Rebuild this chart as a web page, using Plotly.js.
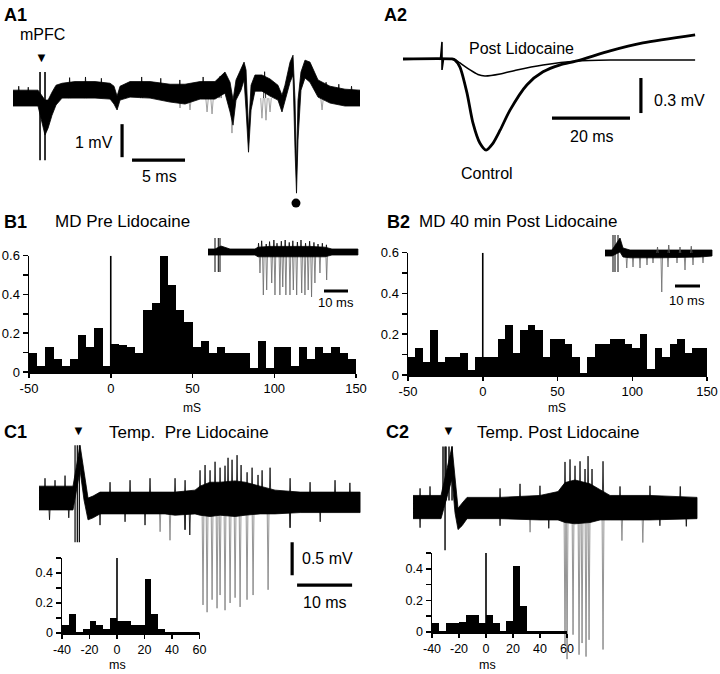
<!DOCTYPE html>
<html><head><meta charset="utf-8">
<script src="https://cdn.plot.ly/plotly-3.0.1.min.js"></script>
<style>html,body{margin:0;padding:0;background:#fff}#chart{width:720px;height:674px}</style>
</head><body><div id="chart"></div>
<script>
// ---------------- DATA ----------------
// A1: averaged field response (ms, mV) - band envelope
const a1T  = [-2.74,-0.38,0.28,0.57,0.94,1.32,1.89,3.11,5.0,6.42,6.79,7.08,7.36,8.3,10.19,12.08,13.49,14.91,16.32,17.26,17.74,18.02,18.3,18.77,19.06,19.25,19.48,19.72,20.09,20.75,21.51,22.26,22.64,22.92,23.4,23.68,23.87,24.01,24.15,24.43,24.81,25.28,26.04,27.17,28.58,30.0];
const a1Hi = [0.24,0.24,-0.06,-0.06,0.18,0.39,0.45,0.5,0.5,0.45,0.36,0.06,0.36,0.5,0.5,0.42,0.42,0.5,0.5,0.79,0.48,-0.06,0.55,0.91,1.09,0.85,-0.97,0.39,0.7,0.7,0.58,0.39,0.09,0.39,1.09,1.3,-0.06,-2.18,-0.06,0.79,1.15,1.09,0.55,0.36,0.27,0.24];
const a1Lo = [-0.24,-0.24,-1.12,-0.91,-0.52,-0.21,0.0,0.0,0.0,-0.03,-0.18,-0.36,-0.06,0.03,0.0,-0.12,-0.18,-0.03,-0.03,0.15,-0.42,-0.82,-0.06,0.24,0.55,-0.36,-1.64,-0.36,0.21,0.21,0.06,-0.06,-0.42,-0.06,0.48,0.7,-1.58,-2.88,-1.27,0.24,0.61,0.48,0.03,-0.15,-0.24,-0.24];
const a1SpikeT = [13.02,13.96,15.57,16.04,17.92,20.75,21.13,21.51,26.42];
const a1SpikeV = [-0.3,-0.36,-0.42,-0.48,-1.06,-0.61,-0.67,-0.42,-0.36];
const a1HairT = [-2.2,-1.3,2.6,4.1,5.6,9.4,11.2,13.0,15.2,16.8,21.0,26.8,28.0,29.2];
const a1HairV = [0.36,0.33,0.62,0.64,0.6,0.64,0.6,0.55,0.64,0.66,0.8,0.48,0.42,0.36];
const a1ArtT = [-0.19,0.28];
const a1ArtTop = 0.79, a1ArtBottom = -1.88;
const a1Dot = {t:23.96, v:-3.18};

// A2: Control vs Post Lidocaine (ms, mV)
const a2CtrlT = [-10,2.56,3.33,4.6,6.4,7.95,9.7,11.3,13.1,14.9,17.4,21.8,25.9,30.3,34.6,43.1,51.5,64.9];
const a2CtrlV = [0,0,-0.01,-0.069,-0.29,-0.55,-0.72,-0.78,-0.72,-0.61,-0.44,-0.22,-0.11,-0.05,-0.017,0.069,0.137,0.206];
const a2PostT = [-10,2.56,3.33,4.6,7.2,9.2,11,14.9,19.2,25.9,34.6,43.1,64.9];
const a2PostV = [0,0,-0.004,-0.034,-0.094,-0.133,-0.146,-0.129,-0.094,-0.051,-0.017,-0.009,-0.009];
const a2ArtT = [-0.4,0,0,0.4], a2ArtV = [0,0.146,-0.094,0];

// B1/B2 histograms (5 ms bins, left edges in mS)
const bBinStart = [-50,-45,-40,-35,-30,-25,-20,-15,-10,-5,0,5,10,15,20,25,30,35,40,45,50,55,60,65,70,75,80,85,90,95,100,105,110,115,120,125,130,135,140,145];
const b1Vals = [0.10,0.03,0.13,0.065,0.03,0.065,0.19,0.13,0.225,0.03,0.145,0.14,0.13,0.10,0.32,0.355,0.60,0.45,0.32,0.26,0.13,0.16,0.10,0.13,0.10,0.10,0.10,0.02,0.16,0.02,0.13,0.13,0.03,0.13,0.065,0.13,0.10,0.13,0.10,0.065];
const b2Vals = [0.09,0.133,0.066,0.223,0.066,0.09,0.09,0.11,0.025,0.09,0.087,0.087,0.178,0.246,0.11,0.223,0.246,0.223,0.09,0.178,0.178,0.154,0.09,0.01,0.09,0.154,0.154,0.178,0.178,0.154,0.133,0.2,0.03,0.133,0.09,0.154,0.178,0.11,0.133,0.133];
const bTickVals = [-50,0,50,100,150];
const bYTicks = [0,0.1,0.2,0.3,0.4,0.5,0.6];
const bYText = ['0','','0.2','','0.4','','0.6'];

// B1 inset trace
const b1iT  = [-4.17,-1.25,1.25,2.5,5.0,15.42,16.67,21.67,30.0,38.33,44.58,47.5,58.33];
const b1iHi = [0.075,0.075,0.15,0.125,0.075,0.075,0.12,0.14,0.14,0.14,0.12,0.075,0.075];
const b1iLo = [-0.075,-0.075,-0.075,-0.075,-0.075,-0.075,-0.12,-0.12,-0.12,-0.12,-0.12,-0.075,-0.075];
const b1iUpT = [16.9,18.2,20.1,21.5,23.3,24.6,26.4,28.0,29.7,31.2,33.1,34.6,36.5,38.2,40.0,41.7,43.5,45.2];
const b1iUpV = [0.22,0.28,0.2,0.26,0.3,0.22,0.27,0.3,0.24,0.28,0.25,0.3,0.22,0.27,0.24,0.2,0.22,0.18];
const b1iSpikeT = [17.5,18.9,20.3,22.4,23.75,25.8,27.0,28.3,30.0,31.4,32.8,34.9,36.25,37.6,39.0,40.4,42.5,45.3];
const b1iSpikeV = [-0.525,-1.075,-0.95,-0.775,-1.075,-1.075,-0.875,-1.075,-1.075,-0.95,-1.075,-1.025,-1.075,-0.95,-1.125,-0.775,-0.525,-0.7];
const b1iArtT = [-1.25,0.12,0.83];
// B2 inset trace
const b2iT  = [-4,-1.2,2.0,3.2,6.0,18.0,34.0,38.8];
const b2iHi = [0.075,0.075,0.375,0.125,0.075,0.075,0.075,0.075];
const b2iLo = [-0.075,-0.075,0.025,-0.1,-0.12,-0.12,-0.1,-0.075];
const b2iSpikeT = [4.7,7.2,10.0,12.8,15.2,18.7,21.2,24.8,28.0,31.2,35.2];
const b2iSpikeV = [-0.375,-0.35,-0.375,-0.3,-0.25,-0.975,-0.35,-0.25,-0.425,-0.3,-0.25];
const b2iUpT = [17.0,21.5,26.0,30.5];
const b2iUpV = [0.15,0.2,0.15,0.17];
const b2iArtT = [-0.8,0,1.2];

// C1 / C2 traces (ms, mV)
const c1T  = [-6.91,-3.09,-0.73,0.55,1.27,2.0,2.91,4.18,11.45,16.0,17.82,21.45,22.36,24.18,26.0,28.73,30.55,33.27,36.0,40.55,46.0,51.45];
const c1Hi = [0.24,0.24,0.24,0.86,0.48,0.06,0.09,0.15,0.15,0.15,0.15,0.18,0.24,0.3,0.3,0.32,0.3,0.24,0.18,0.15,0.15,0.15];
const c1Lo = [-0.12,-0.12,-0.12,0.48,0.03,-0.27,-0.24,-0.18,-0.18,-0.18,-0.2,-0.18,-0.2,-0.22,-0.2,-0.22,-0.2,-0.18,-0.18,-0.16,-0.16,-0.16];
const c1UpT = [-5.82,-4.0,-2.18,6.0,9.64,13.27,17.82,19.64,22.36,23.27,24.18,25.09,26.0,26.9,27.45,28.18,29.09,29.82,30.91,31.82,32.9,33.64,35.09,38.73,42.36,46.9,49.6];
const c1UpV = [0.36,0.33,0.4,0.3,0.33,0.36,0.36,0.33,0.48,0.56,0.48,0.61,0.52,0.55,0.67,0.64,0.71,0.56,0.45,0.52,0.41,0.48,0.52,0.36,0.3,0.33,0.29];
const c1DownT = [-5.0,-1.5,4.18,8.73,12.36,19.64,20.5,38.73,44.2];
const c1DownV = [-0.27,-0.24,-0.35,-0.3,-0.35,-0.42,-0.5,-0.39,-0.3];
const c1SpikeT = [15.1,16.9,19.6,22.9,23.64,24.55,25.45,26.0,26.9,27.82,28.73,29.64,30.9,32.0,34.73,38.7];
const c1SpikeV = [-0.45,-0.58,-0.42,-1.56,-1.67,-1.48,-1.61,-1.41,-1.64,-1.53,-1.45,-1.59,-1.48,-1.41,-1.33,-0.39];
const c1ArtT = [-0.36,0.05,0.42], c1ArtTop = 0.86, c1ArtBottom = -0.61;

const c2T  = [-6.18,-3.09,-1.09,0.91,1.45,2.0,2.73,3.64,9.64,16.9,20.18,21.45,23.27,26.0,27.82,29.64,36.9,45.45];
const c2Hi = [0.18,0.18,0.18,0.94,0.44,-0.02,0.06,0.15,0.15,0.18,0.24,0.38,0.42,0.36,0.27,0.18,0.18,0.15];
const c2Lo = [-0.18,-0.18,-0.18,0.44,-0.09,-0.35,-0.29,-0.18,-0.18,-0.2,-0.2,-0.24,-0.26,-0.24,-0.2,-0.2,-0.2,-0.18];
const c2UpT = [-4.9,-3.09,9.64,13.27,16.9,21.45,22.36,23.27,24.18,25.09,25.64,26.36,28.36,31.45,36.9,42.4];
const c2UpV = [0.29,0.32,0.29,0.36,0.33,0.7,0.74,0.64,0.71,0.59,0.79,0.59,0.71,0.32,0.33,0.32];
const c2DownT = [-4.9,9.64,18.5,38.7,43.5];
const c2DownV = [-0.32,-0.29,-0.33,-0.29,-0.3];
const c2SpikeT = [15.1,21.45,21.82,22.91,24.0,24.55,25.27,25.82,28.36,31.8,35.6];
const c2SpikeV = [-0.39,-2.14,-2.36,-1.98,-2.29,-2.11,-2.32,-2.06,-2.21,-0.52,-0.55];
const c2ArtT = [-0.73,-0.36,-0.18,0.36,0.91], c2ArtBottom = [0.1,-0.67,0.1,0.1,0.1], c2ArtTop = 0.94;

// C1 / C2 histograms (5 ms bins)
const cBinStart = [-40,-35,-30,-25,-20,-15,-10,-5,0,5,10,15,20,25,30,35,40,45,50,55];
const c1Vals = [0.054,0.13,0.007,0.027,0.08,0.054,0.027,0.103,0.08,0.08,0.054,0.054,0.362,0.13,0.027,0.007,0.007,0.007,0.007,0.007];
const c2Vals = [0.057,0.005,0.057,0.057,0.061,0.108,0.108,0.057,0.108,0.057,0.005,0.072,0.42,0.163,0.005,0.005,0.005,0.005,0.005,0.005];
const cTickVals = [-40,-20,0,20,40,60];
const cYTicks = [0,0.1,0.2,0.3,0.4,0.5];
const cYText = ['0','','0.2','','0.4',''];

// ---------------- BUILD ----------------
const W = 720, H = 674;
const FONT = 'Liberation Sans, Arial, Helvetica, sans-serif';
const dx = (a,b) => [a/W, b/W];
const dy = (top,bot) => [1-bot/H, 1-top/H];

function band(t,hi,lo,ax){
  return {x:t.concat(t.slice().reverse()), y:hi.concat(lo.slice().reverse()),
    xaxis:'x'+ax, yaxis:'y'+ax, mode:'lines', fill:'toself', fillcolor:'#000',
    line:{color:'#000', width:0.8}, hoverinfo:'skip', showlegend:false};
}
function spikes(ts,vs,d,ax,color,width){
  const x=[],y=[];
  ts.forEach((t,i)=>{x.push(t-d,t,t+d,null); y.push(0,vs[i],0,null);});
  return {x,y,xaxis:'x'+ax,yaxis:'y'+ax,mode:'lines',line:{color,width},hoverinfo:'skip',showlegend:false};
}
function vlines(ts,top,bottoms,ax,width){
  const x=[],y=[];
  ts.forEach((t,i)=>{const b=Array.isArray(bottoms)?bottoms[i]:bottoms; x.push(t,t,null); y.push(top,b,null);});
  return {x,y,xaxis:'x'+ax,yaxis:'y'+ax,mode:'lines',line:{color:'#000',width},hoverinfo:'skip',showlegend:false};
}
function seg(x0,y0,x1,y1,ax,width){
  return {x:[x0,x1],y:[y0,y1],xaxis:'x'+ax,yaxis:'y'+ax,mode:'lines',line:{color:'#000',width},hoverinfo:'skip',showlegend:false,cliponaxis:false};
}
function bars(starts,vals,ax){
  return {type:'bar', x:starts.map(s=>s+2.5), y:vals, width:5, xaxis:'x'+ax, yaxis:'y'+ax,
    marker:{color:'#000', line:{width:0}}, hoverinfo:'skip', showlegend:false};
}

const traces = [];
// A1
traces.push(spikes(a1SpikeT,a1SpikeV,0.12,'', '#8a8a8a',0.8));
traces.push(band(a1T,a1Hi,a1Lo,''));
traces.push(spikes(a1HairT,a1HairV,0.1,'', '#000',0.8));
traces.push(vlines(a1ArtT,a1ArtTop,a1ArtBottom,'',1.6));
traces.push({x:[a1Dot.t],y:[a1Dot.v],mode:'markers',marker:{color:'#000',size:9},xaxis:'x',yaxis:'y',showlegend:false,hoverinfo:'skip',cliponaxis:false});
traces.push(seg(7.55,-0.79,7.55,-1.79,'',3.2));
traces.push(seg(8.49,-1.88,13.49,-1.88,'',3.2));
// A2
traces.push({x:a2PostT,y:a2PostV,mode:'lines',line:{color:'#000',width:1.5,shape:'spline',smoothing:0.7},xaxis:'x2',yaxis:'y2',showlegend:false,hoverinfo:'skip'});
traces.push({x:a2CtrlT,y:a2CtrlV,mode:'lines',line:{color:'#000',width:2.8,shape:'spline',smoothing:0.7},xaxis:'x2',yaxis:'y2',showlegend:false,hoverinfo:'skip'});
traces.push({x:a2ArtT,y:a2ArtV,mode:'lines',line:{color:'#000',width:1.6},xaxis:'x2',yaxis:'y2',showlegend:false,hoverinfo:'skip'});
traces.push(seg(28.2,-0.506,48.2,-0.506,'2',3.2));
traces.push(seg(51.0,-0.163,51.0,-0.463,'2',3.2));
// B1 / B2 histograms
traces.push(bars(bBinStart,b1Vals,'3'));
traces.push(seg(0,0,0,0.6,'3',1.6));
traces.push(bars(bBinStart,b2Vals,'4'));
traces.push(seg(0,0,0,0.6,'4',1.6));
// B insets
traces.push(spikes(b1iSpikeT,b1iSpikeV,0.35,'5','#6a6a6a',0.8));
traces.push(band(b1iT,b1iHi,b1iLo,'5'));
traces.push(spikes(b1iUpT,b1iUpV,0.3,'5','#000',0.8));
traces.push(vlines(b1iArtT,0.35,-0.5,'5',1));
traces.push(seg(44.2,-0.975,54.2,-0.975,'5',3));
traces.push(spikes(b2iSpikeT,b2iSpikeV,0.35,'6','#6a6a6a',0.8));
traces.push(band(b2iT,b2iHi,b2iLo,'6'));
traces.push(spikes(b2iUpT,b2iUpV,0.3,'6','#555',0.8));
traces.push(vlines(b2iArtT,0.45,-0.475,'6',1));
traces.push(seg(24,-0.825,34,-0.825,'6',3));
// C1 trace
traces.push(spikes(c1SpikeT,c1SpikeV,0.18,'7','#7a7a7a',0.8));
traces.push(band(c1T,c1Hi,c1Lo,'7'));
traces.push(spikes(c1UpT,c1UpV,0.16,'7','#000',0.8));
traces.push(spikes(c1DownT,c1DownV,0.16,'7','#000',0.8));
traces.push(vlines(c1ArtT,c1ArtTop,c1ArtBottom,'7',1.2));
traces.push(seg(39.1,-0.61,39.1,-1.11,'7',3.2));
traces.push(seg(40.0,-1.26,50.0,-1.26,'7',3.2));
// C2 trace
traces.push(spikes(c2SpikeT,c2SpikeV,0.18,'8','#7a7a7a',0.8));
traces.push(band(c2T,c2Hi,c2Lo,'8'));
traces.push(spikes(c2UpT,c2UpV,0.16,'8','#000',0.8));
traces.push(spikes(c2DownT,c2DownV,0.16,'8','#000',0.8));
traces.push(vlines(c2ArtT,c2ArtTop,c2ArtBottom,'8',1.4));
// C histograms
traces.push(bars(cBinStart,c1Vals,'9'));
traces.push(seg(0,0,0,0.54,'9',1.6));
traces.push(bars(cBinStart,c2Vals,'10'));
traces.push(seg(0,0,0,0.5,'10',1.6));

function hid(dom, rng, anchor){ return {domain:dom, range:rng, visible:false, fixedrange:true, anchor}; }
function histX(dom, rng, tv, anchor, fs){
  return {domain:dom, range:rng, anchor, showline:true, linecolor:'#000', linewidth:1.5, ticks:'outside', ticklen:4, tickwidth:1.5, tickcolor:'#000',
    tickvals:tv, ticktext:tv.map(String), tickfont:{family:FONT,size:fs,color:'#000'}, showgrid:false, zeroline:false, fixedrange:true};
}
function histY(dom, rng, tv, tt, anchor, fs){
  return {domain:dom, range:rng, anchor, showline:true, linecolor:'#000', linewidth:1.5, ticks:'outside', ticklen:5, tickwidth:1.5, tickcolor:'#000',
    tickvals:tv, ticktext:tt, tickfont:{family:FONT,size:fs,color:'#000'}, showgrid:false, zeroline:false, fixedrange:true};
}

function ann(text, px, py, size, xanchor, bold){
  return {text: bold?('<b>'+text+'</b>'):text, x:px/W, y:1-py/H, xref:'paper', yref:'paper', showarrow:false,
    xanchor:xanchor||'center', yanchor:'middle', font:{family:FONT,size:size,color:'#000'}};
}

const layout = {
  width:W, height:H, margin:{l:0,r:0,t:0,b:0}, paper_bgcolor:'#fff', plot_bgcolor:'rgba(0,0,0,0)',
  showlegend:false, barmode:'overlay', bargap:0,
  xaxis: hid(dx(13,360), [-2.74,30], 'y'),
  yaxis: hid(dy(40,210), [-3.39,1.76], 'x'),
  xaxis2: hid(dx(400,700), [-10.77,66.15], 'y2'),
  yaxis2: hid(dy(25,160), [-0.865,0.291], 'x2'),
  xaxis3: histX(dx(29,356), [-50,150], bTickVals, 'y3', 13),
  yaxis3: histY(dy(255.7,372), [0,0.6], bYTicks, bYText, 'x3', 13),
  xaxis4: histX(dx(408,707), [-50,150], bTickVals, 'y4', 13),
  yaxis4: histY(dy(252.7,375), [0,0.6], bYTicks, bYText, 'x4', 13),
  xaxis5: hid(dx(205,360), [-5.42,59.2], 'y5'),
  yaxis5: hid(dy(232,300), [-1.2,0.5], 'x5'),
  xaxis6: hid(dx(600,715), [-6,40], 'y6'),
  yaxis6: hid(dy(232,300), [-1.175,0.525], 'x6'),
  xaxis7: hid(dx(35,362), [-7.64,51.8], 'y7'),
  yaxis7: hid(dy(425,620), [-1.788,1.167], 'x7'),
  xaxis8: hid(dx(405,705), [-7.64,46.9], 'y8'),
  yaxis8: hid(dy(425,680), [-2.59,1.273], 'x8'),
  xaxis9: histX(dx(62,199.5), [-40,60], cTickVals, 'y9', 12.5),
  yaxis9: histY(dy(558,633), [0,0.5], cYTicks, cYText, 'x9', 12.5),
  xaxis10: histX(dx(432,567), [-40,60], cTickVals, 'y10', 12.5),
  yaxis10: histY(dy(553,632), [0,0.5], cYTicks, cYText, 'x10', 12.5),
  annotations: [
    ann('A1',2,15,18,'left',true),
    ann('mPFC',42,35,16),
    ann('▼',41,58,13),
    ann('1 mV',115,143,16,'right'),
    ann('5 ms',159,176,16),
    ann('A2',382,15,18,'left',true),
    ann('Post Lidocaine',521,48,16),
    ann('Control',487,173,16),
    ann('20 ms',592,137,16),
    ann('0.3 mV',652,100,16,'left'),
    ann('B1',2,222,18,'left',true),
    ann('MD Pre Lidocaine',53,222,17,'left'),
    ann('B2',385,222,18,'left',true),
    ann('MD 40 min Post Lidocaine',417,222,17,'left'),
    ann('10 ms',336,303,13),
    ann('10 ms',687,300,13),
    ann('mS',192,408,12),
    ann('mS',557,408,12),
    ann('C1',2,432,18,'left',true),
    ann('▼',78,430,13),
    ann('Temp.&nbsp;&nbsp;Pre Lidocaine',107,432,17,'left'),
    ann('C2',384,432,18,'left',true),
    ann('▼',448,430,13),
    ann('Temp. Post Lidocaine',475,432,17,'left'),
    ann('0.5 mV',300,558,16,'left'),
    ann('10 ms',325,602,16),
    ann('ms',117,665,12.5),
    ann('ms',487,665,12.5)
  ]
};
Plotly.newPlot('chart', traces, layout, {staticPlot:true, displayModeBar:false});
</script></body></html>
